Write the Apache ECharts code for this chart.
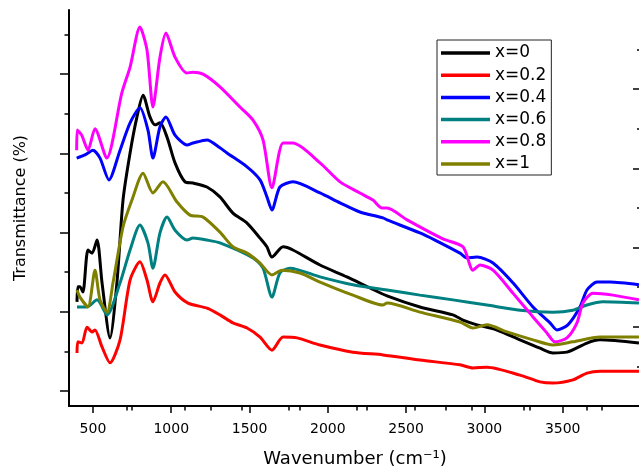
<!DOCTYPE html>
<html>
<head>
<meta charset="utf-8">
<script src="https://cdn.jsdelivr.net/npm/echarts@6/dist/echarts.min.js"></script>
<style>html,body{margin:0;padding:0;background:#fff}#c{width:639px;height:468px}</style>
</head>
<body>
<div id="c"></div>
<script>
// Wavenumber (cm-1) / Transmittance (arbitrary, 0-100 across plot height)
var seriesNames = ['x=0', 'x=0.2', 'x=0.4', 'x=0.6', 'x=0.8', 'x=1'];

var x0 = [[398,26.3],[404,30.1],[417,30.1],[436,28.8],[468,39.4],[494,38.6],[526,41.9],[558,31.1],[609,17.2],[653,31.1],[692,52.0],[737,63.9],[781,73.0],[820,78.5],[864,73.0],[896,71.0],[928,71.5],[973,67.9],[1024,61.4],[1088,56.6],[1139,56.3],[1228,55.3],[1311,52.8],[1394,48.7],[1484,46.2],[1567,42.4],[1611,40.2],[1643,37.6],[1714,40.2],[1777,39.4],[1950,35.6],[2122,32.6],[2269,29.8],[2378,27.8],[2588,25.0],[2799,23.0],[2863,21.7],[2953,20.5],[3080,19.2],[3227,16.7],[3355,14.6],[3438,13.4],[3527,13.6],[3655,15.9],[3738,16.7],[3987,15.9]];

var x02 = [[398,13.4],[404,16.2],[430,15.9],[462,19.9],[494,18.7],[513,19.2],[558,14.9],[609,10.9],[673,16.7],[737,31.8],[800,36.4],[845,31.8],[883,26.3],[928,31.1],[960,33.1],[1024,28.8],[1107,26.0],[1228,24.7],[1311,23.0],[1394,21.0],[1484,19.7],[1567,17.4],[1643,14.1],[1714,17.4],[1803,17.2],[1950,15.4],[2160,13.6],[2352,12.9],[2588,11.6],[2844,10.4],[2927,9.6],[3016,9.8],[3227,7.8],[3355,6.1],[3438,5.8],[3565,6.6],[3655,8.3],[3738,8.8],[3987,8.8]];

var x04 = [[396,62.6],[449,63.4],[500,64.6],[545,62.6],[602,57.1],[673,64.6],[737,71.5],[800,75.3],[851,69.7],[883,62.6],[928,70.5],[966,73.0],[1024,68.4],[1101,65.9],[1139,66.4],[1228,67.2],[1311,65.2],[1356,63.9],[1484,60.4],[1567,57.1],[1611,52.8],[1643,49.5],[1694,55.3],[1777,56.6],[1950,53.8],[2078,51.3],[2205,49.0],[2352,47.5],[2378,47.0],[2588,43.7],[2684,41.9],[2844,38.6],[2889,37.4],[2953,37.6],[3055,36.1],[3182,31.1],[3310,25.0],[3419,21.0],[3463,19.2],[3533,20.5],[3610,25.0],[3655,29.3],[3719,31.3],[3802,31.3],[3987,30.6]];

var x06 = [[398,25.0],[462,25.0],[526,26.8],[590,23.0],[673,31.1],[737,39.4],[800,45.7],[851,41.2],[883,34.8],[928,43.7],[973,47.7],[1024,44.4],[1101,41.9],[1139,42.4],[1228,41.9],[1311,41.2],[1522,37.4],[1586,34.8],[1643,27.5],[1694,33.6],[1758,34.8],[1950,32.6],[2160,30.6],[2378,29.3],[2588,28.0],[2799,26.8],[3016,25.5],[3227,24.2],[3438,23.7],[3565,24.2],[3655,25.5],[3757,26.3],[3987,26.0]];

var x08 = [[396,64.6],[400,69.7],[428,68.4],[468,64.6],[513,70.0],[588,62.6],[684,79.0],[737,85.6],[800,95.7],[845,89.9],[883,75.5],[928,88.1],[966,94.2],[1024,88.1],[1099,84.1],[1139,84.3],[1203,83.8],[1311,80.6],[1439,75.5],[1522,72.2],[1586,67.2],[1643,55.1],[1714,66.4],[1777,66.4],[1950,61.4],[2078,56.6],[2205,53.8],[2288,52.0],[2346,50.0],[2378,50.0],[2506,47.0],[2735,42.2],[2863,40.2],[2927,34.3],[2972,35.6],[3055,34.3],[3182,28.5],[3310,22.5],[3400,18.4],[3450,16.2],[3527,17.2],[3591,21.0],[3629,26.0],[3693,28.5],[3821,28.0],[3987,26.8]];

var x1 = [[398,29.3],[417,27.5],[468,25.0],[513,34.3],[545,26.8],[590,23.7],[628,31.1],[692,45.2],[749,52.0],[820,58.8],[883,53.8],[947,56.6],[1037,51.5],[1120,48.2],[1203,47.7],[1311,43.9],[1394,40.2],[1484,38.6],[1567,36.1],[1643,33.1],[1707,34.3],[1822,33.6],[1950,31.3],[2160,28.0],[2352,25.5],[2378,26.0],[2588,23.7],[2844,21.2],[2927,19.7],[3016,20.5],[3144,18.7],[3310,16.7],[3438,15.4],[3565,16.2],[3738,17.4],[3987,17.4]];

var seriesData = [x0, x02, x04, x06, x08, x1];
var seriesColors = ['#000000', '#ff0000', '#0000ff', '#008080', '#ff00ff', '#808000'];

var xMajorTicks = [500, 1000, 1500, 2000, 2500, 3000, 3500];
var xMinorTicks = [750, 1250, 1750, 2250, 2750, 3250, 3750];
var topTicks = [717, 1084, 1452, 1819, 2186, 2553, 2921, 3288, 3655];
var yLeftMajor = [3.8, 23.8, 43.8, 63.8, 83.8];
var yLeftMinor = [13.8, 33.8, 53.8, 73.8, 93.8];
var yRightMajor = [20, 40, 60, 80];
var yRightMinor = [10, 30, 50, 70, 90];

var X_MIN = 347, X_MAX = 4000;
var FONT = 'DejaVu Sans';
var axisLine = { show: true, lineStyle: { color: '#000', width: 2 } };

function xAx(opts) {
  return Object.assign({
    type: 'value', min: X_MIN, max: X_MAX, position: 'bottom',
    splitLine: { show: false }, axisLine: { show: false },
    axisLabel: { show: false }, axisTick: { show: false }
  }, opts);
}
function yAx(opts) {
  return Object.assign({
    type: 'value', min: 0, max: 100, position: 'left',
    splitLine: { show: false }, axisLine: { show: false },
    axisLabel: { show: false }, axisTick: { show: false }
  }, opts);
}

var chart = echarts.init(document.getElementById('c'), null, { renderer: 'canvas' });
chart.setOption({
  animation: false,
  backgroundColor: '#fff',
  grid: { left: 69, right: -2, top: 10, bottom: 62, containLabel: false, outerBoundsMode: 'none' },
  legend: {
    orient: 'vertical', left: 437, top: 40,
    padding: [4, 5, 2, 4],
    borderColor: '#222', borderWidth: 1,
    icon: 'rect',
    itemWidth: 49, itemHeight: 3.5, itemGap: 4.2,
    textStyle: { fontFamily: FONT, fontSize: 17, color: '#000', lineHeight: 18 },
    data: seriesNames
  },
  xAxis: [
    xAx({
      axisLine: axisLine,
      axisTick: { show: true, customValues: xMajorTicks, length: 7, lineStyle: { color: '#000', width: 1.5 } },
      axisLabel: { show: true, customValues: xMajorTicks, margin: 16, fontFamily: FONT, fontSize: 14, color: '#000',
        formatter: function (v) { return String(v); } },
      name: 'Wavenumber (cm\u207B\u00B9)',
      nameLocation: 'middle', nameGap: 44,
      nameTextStyle: { fontFamily: FONT, fontSize: 18, color: '#000' }
    }),
    xAx({ axisTick: { show: true, customValues: xMinorTicks, length: 4.5, lineStyle: { color: '#000', width: 1.5 } } }),
    xAx({
      position: 'top', axisLine: axisLine,
      axisTick: { show: true, inside: true, customValues: topTicks, length: 4.5, lineStyle: { color: '#000', width: 1.5 } }
    })
  ],
  yAxis: [
    yAx({
      axisLine: axisLine,
      axisTick: { show: true, customValues: yLeftMajor, length: 9, lineStyle: { color: '#000', width: 1.5 } },
      name: 'Transmittance (%)', nameLocation: 'middle', nameGap: 40,
      nameTextStyle: { fontFamily: FONT, fontSize: 16, color: '#000' }
    }),
    yAx({ axisTick: { show: true, customValues: yLeftMinor, length: 4.5, lineStyle: { color: '#000', width: 1.5 } } }),
    yAx({
      position: 'right', axisLine: axisLine,
      axisTick: { show: true, inside: true, customValues: yRightMajor, length: 8, lineStyle: { color: '#000', width: 1.5 } }
    }),
    yAx({
      position: 'right',
      axisTick: { show: true, inside: true, customValues: yRightMinor, length: 4, lineStyle: { color: '#000', width: 1.5 } }
    })
  ],
  series: seriesNames.map(function (n, i) {
    return {
      name: n, type: 'line', data: seriesData[i],
      xAxisIndex: 0, yAxisIndex: 0,
      symbol: 'none', smooth: 0.25,
      lineStyle: { color: seriesColors[i], width: 3 },
      itemStyle: { color: seriesColors[i] }
    };
  })
});
</script>
</body>
</html>
